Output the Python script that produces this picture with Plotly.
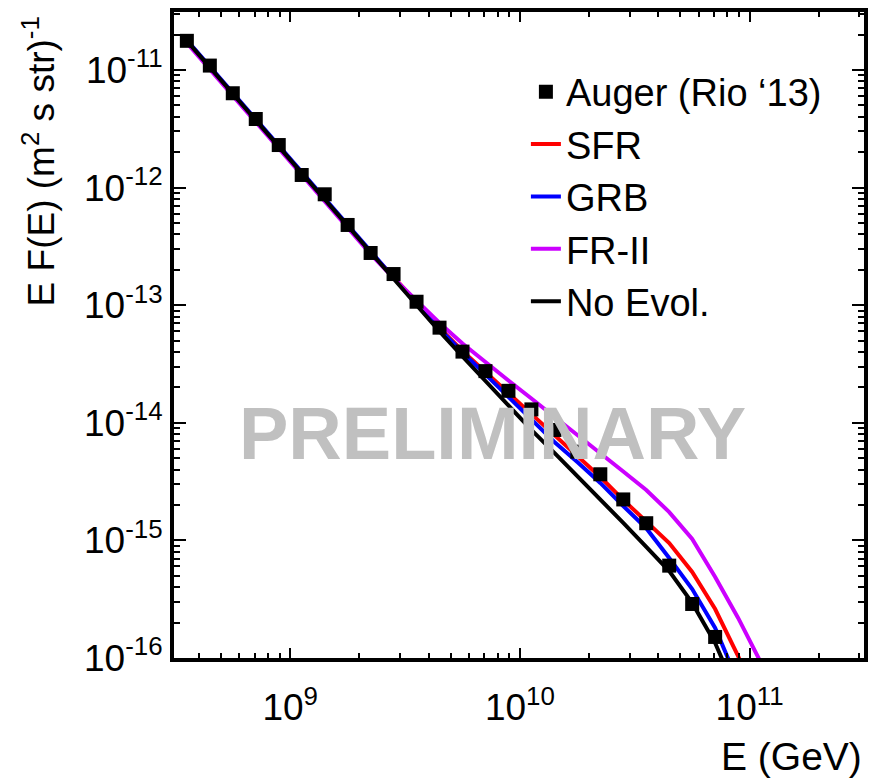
import plotly.graph_objects as go

# ---------------- data ----------------
auger_E = [3.548e8, 4.467e8, 5.623e8, 7.079e8, 8.913e8, 1.122e9, 1.413e9, 1.778e9,
           2.239e9, 2.818e9, 3.548e9, 4.467e9, 5.623e9, 7.079e9, 8.913e9, 1.122e10,
           1.413e10, 1.778e10, 2.239e10, 2.818e10, 3.548e10, 4.467e10, 5.623e10, 7.079e10]
auger_flux = [1.77e-11, 1.09e-11, 6.34e-12, 3.83e-12, 2.30e-12, 1.28e-12, 8.77e-13, 4.81e-13,
              2.78e-13, 1.84e-13, 1.07e-13, 6.44e-14, 4.03e-14, 2.75e-14, 1.87e-14, 1.30e-14,
              8.69e-15, 5.68e-15, 3.65e-15, 2.23e-15, 1.40e-15, 6.10e-16, 2.88e-16, 1.51e-16]

model_E = [3.548e8, 4.467e8, 5.623e8, 7.079e8, 8.913e8, 1.122e9, 1.413e9, 1.778e9,
           2.239e9, 2.818e9, 3.548e9, 4.467e9, 5.623e9, 7.079e9, 8.913e9, 1.122e10,
           1.413e10, 1.778e10, 2.239e10, 2.818e10, 3.548e10, 4.467e10, 5.623e10, 7.079e10,
           8.913e10, 1.122e11]

sfr_flux = [1.766e-11, 1.050e-11, 6.25e-12, 3.72e-12, 2.21e-12, 1.318e-12, 7.85e-13, 4.67e-13,
            2.78e-13, 1.74e-13, 1.04e-13, 6.40e-14, 4.08e-14, 2.70e-14, 1.79e-14, 1.19e-14,
            7.72e-15, 5.22e-15, 3.46e-15, 2.21e-15, 1.43e-15, 9.50e-16, 5.39e-16, 2.61e-16,
            1.04e-16, 3.61e-17]
grb_flux = [1.80e-11, 1.07e-11, 6.38e-12, 3.79e-12, 2.25e-12, 1.34e-12, 8.01e-13, 4.76e-13,
            2.84e-13, 1.70e-13, 1.024e-13, 6.28e-14, 3.96e-14, 2.58e-14, 1.67e-14, 1.08e-14,
            6.87e-15, 4.64e-15, 3.08e-15, 1.96e-15, 1.27e-15, 7.09e-16, 3.86e-16, 1.80e-16,
            6.25e-17, 1.8e-17]
fr2_flux = [1.70e-11, 1.01e-11, 6.01e-12, 3.58e-12, 2.13e-12, 1.27e-12, 7.55e-13, 4.49e-13,
            2.72e-13, 1.70e-13, 1.09e-13, 7.06e-14, 4.72e-14, 3.26e-14, 2.29e-14, 1.61e-14,
            1.13e-14, 7.88e-15, 5.54e-15, 3.85e-15, 2.68e-15, 1.74e-15, 1.03e-15, 4.88e-16,
            2.19e-16, 9.07e-17]
noevol_flux = [1.766e-11, 1.050e-11, 6.25e-12, 3.72e-12, 2.21e-12, 1.318e-12, 7.85e-13, 4.67e-13,
               2.78e-13, 1.671e-13, 9.94e-14, 5.98e-14, 3.66e-14, 2.27e-14, 1.40e-14, 8.69e-15,
               5.54e-15, 3.53e-15, 2.25e-15, 1.41e-15, 8.79e-16, 5.49e-16, 2.94e-16, 1.34e-16,
               4.75e-17, 1.2e-17]

x_tickvals = [1e9, 1e10, 1e11]
x_ticktext = ["10<sup>9</sup>", "10<sup>10</sup>", "10<sup>11</sup>"]
y_tickvals = [1e-16, 1e-15, 1e-14, 1e-13, 1e-12, 1e-11]
y_ticktext = ["10<sup>-16</sup>", "10<sup>-15</sup>", "10<sup>-14</sup>",
              "10<sup>-13</sup>", "10<sup>-12</sup>", "10<sup>-11</sup>"]
x_minor = [m * 10 ** d for d in (8, 9, 10, 11) for m in range(2, 10)]
y_minor = [m * 10 ** d for d in (-16, -15, -14, -13, -12, -11) for m in range(2, 10)]

FONT = "Liberation Sans, Arial, Helvetica, sans-serif"

fig = go.Figure()
curves = [("SFR", sfr_flux, "#ff0000"), ("GRB", grb_flux, "#0000ff"),
          ("FR-II", fr2_flux, "#cc00ff"), ("No Evol.", noevol_flux, "#000000")]
for i, (name, flux, col) in enumerate(curves):
    fig.add_trace(go.Scatter(x=model_E, y=flux, mode="lines", name=name,
                             line=dict(color=col, width=4), legendrank=2 + i))
fig.add_trace(go.Scatter(x=auger_E, y=auger_flux, mode="markers", name="Auger (Rio ‘13)",
                         marker=dict(symbol="square", size=14, color="black"),
                         legendrank=1))

fig.update_xaxes(type="log", range=[8.494, 11.498], tickmode="array",
                 tickvals=x_tickvals, ticktext=x_ticktext,
                 ticks="inside", ticklen=10, tickwidth=2, tickcolor="black",
                 showline=True, linewidth=4, linecolor="black", mirror="ticks",
                 showgrid=False, zeroline=False, ticklabelstandoff=14,
                 tickfont=dict(size=37, family=FONT, color="black"),
                 minor=dict(tickmode="array", tickvals=x_minor, ticks="inside",
                            ticklen=5, tickwidth=2, tickcolor="black", showgrid=False))
fig.update_yaxes(type="log", range=[-16, -10.507], tickmode="array",
                 tickvals=y_tickvals, ticktext=y_ticktext,
                 ticks="inside", ticklen=12, tickwidth=2, tickcolor="black",
                 showline=True, linewidth=4, linecolor="black", mirror="ticks",
                 showgrid=False, zeroline=False,
                 tickfont=dict(size=37, family=FONT, color="black"),
                 minor=dict(tickmode="array", tickvals=y_minor, ticks="inside",
                            ticklen=6, tickwidth=2, tickcolor="black", showgrid=False))

fig.update_layout(
    width=870, height=778,
    margin=dict(l=174, r=2, t=12, b=120),
    paper_bgcolor="white", plot_bgcolor="white",
    font=dict(family=FONT, color="black"),
    showlegend=True,
    legend=dict(x=0.51, y=0.925, xanchor="left", yanchor="top",
                bgcolor="rgba(0,0,0,0)", font=dict(size=38, family=FONT, color="black"),
                itemwidth=30, tracegroupgap=0),
    annotations=[
        dict(text="PRELIMINARY", xref="paper", yref="paper", x=0.461, y=0.347,
             xanchor="center", yanchor="middle", showarrow=False,
             font=dict(size=74, family=FONT, color="#c0c0c0", weight="bold")),
        dict(text="E (GeV)", xref="paper", yref="paper", x=1.0, y=-0.152,
             xanchor="right", yanchor="middle", showarrow=False,
             font=dict(size=39, family=FONT, color="black")),
        dict(text="E F(E) (m<sup>2</sup> s str)<sup>-1</sup>", xref="paper", yref="paper",
             x=-0.195, y=0.997, xanchor="center", yanchor="top", textangle=-90,
             showarrow=False, font=dict(size=37, family=FONT, color="black")),
    ],
)

fig.write_html("out.html")
